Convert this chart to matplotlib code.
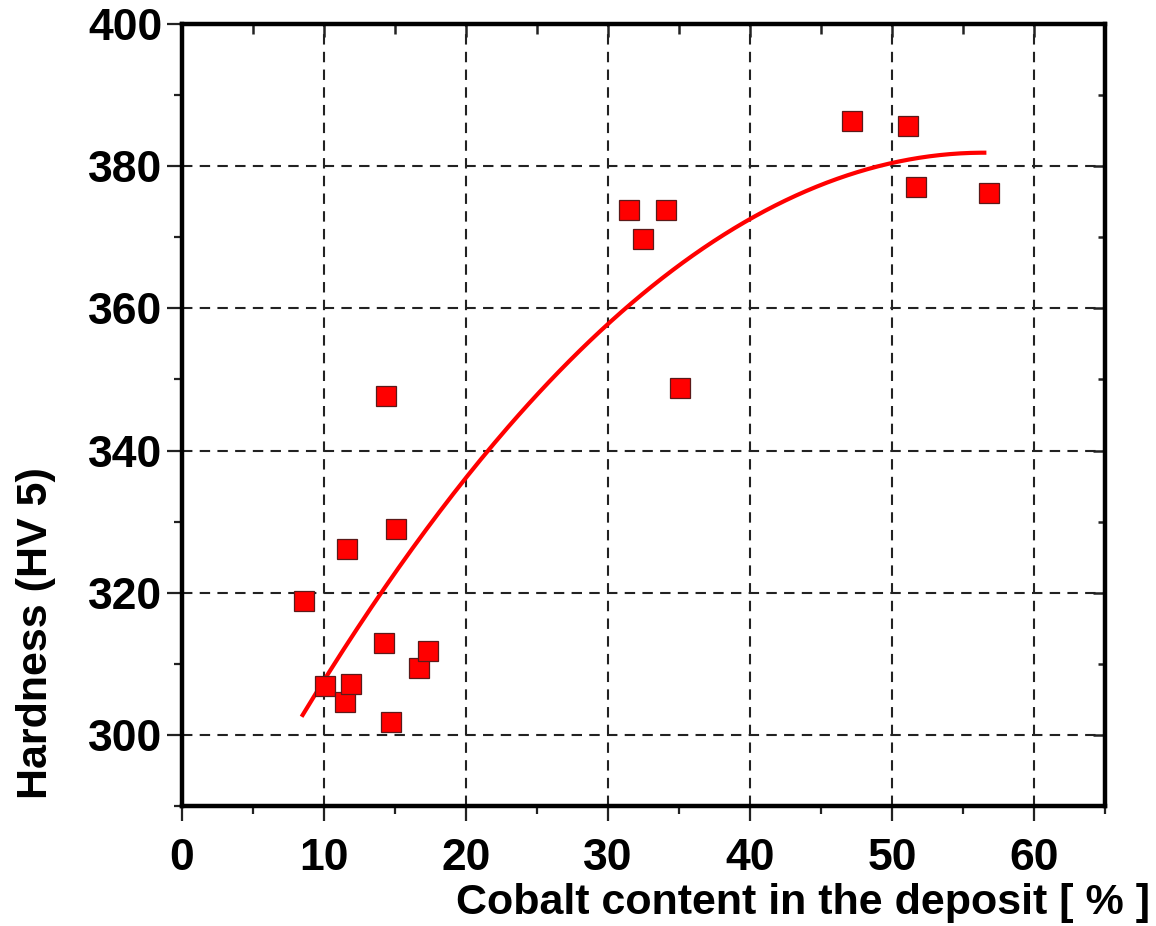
import numpy as np
import matplotlib
matplotlib.use("Agg")
import matplotlib.pyplot as plt
from matplotlib.ticker import MultipleLocator

# Cobalt content of the deposit [%] and measured Vickers hardness (HV 5)
cobalt_pct = [8.6, 10.1, 11.6, 11.5, 11.9, 14.4, 14.2, 14.7, 15.1, 16.7, 17.3,
              31.5, 32.5, 34.1, 35.1, 47.2, 51.1, 51.7, 56.8]
hardness_hv = [318.8, 306.9, 326.2, 304.6, 307.2, 347.7, 312.9, 301.8, 329.0, 309.4, 311.8,
               373.9, 369.7, 373.9, 348.8, 386.3, 385.7, 377.1, 376.2]

# Second-order trend line: hardness = c0 + c1*x + c2*x^2
trend_coeffs = [272.3, 3.8805, -0.03435]
trend_range = [8.5, 56.5]

x_ticks = [0, 10, 20, 30, 40, 50, 60]
y_ticks = [300, 320, 340, 360, 380, 400]

plt.rcParams['font.family'] = ['Liberation Sans', 'DejaVu Sans']
plt.rcParams['font.weight'] = 'bold'

fig = plt.figure(figsize=(11.56, 9.26), dpi=100)
ax = fig.add_axes([0.1574, 0.1296, 0.7985, 0.8445])

xs = np.linspace(trend_range[0], trend_range[1], 200)
ys = trend_coeffs[0] + trend_coeffs[1] * xs + trend_coeffs[2] * xs ** 2
ax.plot(xs, ys, color='#ff0000', lw=3.0, zorder=3)

ax.plot(cobalt_pct, hardness_hv, linestyle='none', marker='s', markersize=14,
        markerfacecolor='#ff0000', markeredgecolor='#5a1a1a', markeredgewidth=0.9,
        zorder=4)

ax.set_xlim(0, 65)
ax.set_ylim(290, 400)
ax.set_xticks(x_ticks)
ax.set_yticks(y_ticks)
ax.xaxis.set_minor_locator(MultipleLocator(5))
ax.yaxis.set_minor_locator(MultipleLocator(10))

ax.grid(True, which='major', color='#222222', linestyle=(0, (5, 3.5)), linewidth=1.5)
ax.set_axisbelow(True)

for side in ['left', 'bottom', 'top', 'right']:
    ax.spines[side].set_linewidth(3.2)
    ax.spines[side].set_color('black')

ax.tick_params(axis='both', which='major', direction='out', length=11, width=1.6,
               labelsize=32, color='#222222')
ax.tick_params(axis='x', which='major', pad=12)
ax.tick_params(axis='y', which='major', pad=3)
ax.tick_params(axis='both', which='minor', direction='out', length=6, width=1.6,
               color='#222222')

for lbl in ax.get_xticklabels() + ax.get_yticklabels():
    lbl.set_fontweight('bold')

# Inward ticks along the top and right frame edges
top = ax.secondary_xaxis('top')
top.set_xticks(x_ticks)
top.xaxis.set_minor_locator(MultipleLocator(5))
top.tick_params(which='major', direction='in', length=9, width=1.8, labeltop=False,
                color='#222222')
top.tick_params(which='minor', direction='in', length=7, width=1.8, color='#222222')
top.spines['top'].set_visible(False)

right = ax.secondary_yaxis('right')
right.set_yticks(y_ticks)
right.yaxis.set_minor_locator(MultipleLocator(10))
right.tick_params(which='major', direction='in', length=9, width=1.8, labelright=False,
                  color='#222222')
right.tick_params(which='minor', direction='in', length=5, width=1.8, color='#222222')
right.spines['right'].set_visible(False)

fig.text(0.995, 0.003, 'Cobalt content in the deposit [ % ]', ha='right', va='bottom',
         fontsize=31, fontweight='bold')
fig.text(0.031, 0.316, 'Hardness (HV 5)', ha='center', va='center', rotation=90,
         fontsize=31, fontweight='bold')

fig.savefig('out.png', dpi=100)
